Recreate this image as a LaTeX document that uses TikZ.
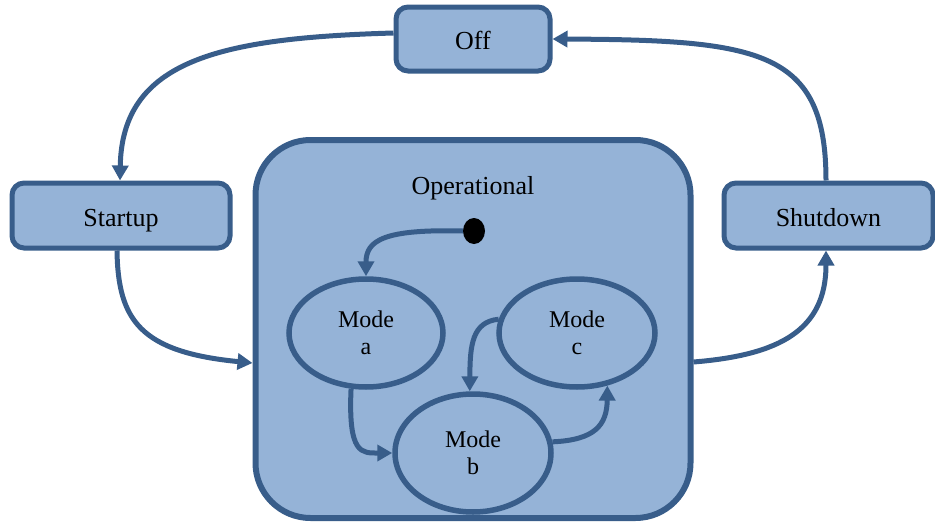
\documentclass[tikz,border=0pt]{standalone}
\usepackage{fontspec}
\setmainfont{Liberation Serif}
\usetikzlibrary{arrows.meta,shapes.geometric}
\definecolor{boxfill}{HTML}{95B3D7}
\definecolor{boxline}{HTML}{385D8A}
\begin{document}
\begin{tikzpicture}[x=1pt,y=-1pt,
  box/.style={draw=boxline,fill=boxfill,line width=5pt,rounded corners=12pt,font=\fontsize{26}{30}\selectfont,inner sep=0pt,text height=25pt,text depth=4pt},
  mode/.style={ellipse,draw=boxline,fill=boxfill,line width=5.5pt,inner sep=0pt,align=center,font=\fontsize{24}{27}\selectfont},
  conn/.style={draw=boxline,line width=5pt,-{Triangle[length=15pt,width=16pt]}}]
\useasboundingbox (0,0) rectangle (935,522);
\node[box,minimum width=154pt,minimum height=64pt] (off) at (473,39) {Off};
\node[box,minimum width=218pt,minimum height=65pt] (start) at (121,215.5) {Startup};
\node[box,minimum width=209pt,minimum height=65pt] (shut) at (828.5,215.5) {Shutdown};
\node[box,line width=6pt,rounded corners=55pt,minimum width=435pt,minimum height=378pt] (op) at (473,329) {};
\node[font=\fontsize{26}{30}\selectfont] (optext) at (473,188) {Operational};
\node[ellipse,fill=black,minimum width=22pt,minimum height=26pt,inner sep=0pt] (dot) at (474,231) {};
\node[mode,minimum width=154pt,minimum height=108pt] (ma) at (366,333) {Mode\\a};
\node[mode,minimum width=156pt,minimum height=118pt] (mb) at (473,453) {Mode\\b};
\node[mode,minimum width=156pt,minimum height=108pt] (mc) at (577,333) {Mode\\c};
\draw[conn] ([yshift=6pt]off.west) .. controls (220,38) and (122,60) .. ([xshift=-1pt]start.north);
\draw[conn] ([xshift=-4pt]start.south) .. controls (118,320) and (140,352) .. ([yshift=-34pt]op.west);
\draw[conn] ([yshift=-33pt]op.east) .. controls (780,355) and (826,330) .. ([xshift=-2.5pt]shut.south);
\draw[conn] ([xshift=-2.5pt]shut.north) .. controls (826,50) and (760,40) .. (off.east);
\draw[conn] (dot.west) .. controls (385,229) and (366,240) .. (ma.north);
\draw[conn] (ma.255) .. controls (348,455) and (362,453) .. (mb.west);
\draw[conn] (mc.170) .. controls (472,322) and (470,345) .. (mb.93);
\draw[conn] (mb.8) .. controls (595,440) and (607,425) .. (mc.300);
\end{tikzpicture}
\end{document}
